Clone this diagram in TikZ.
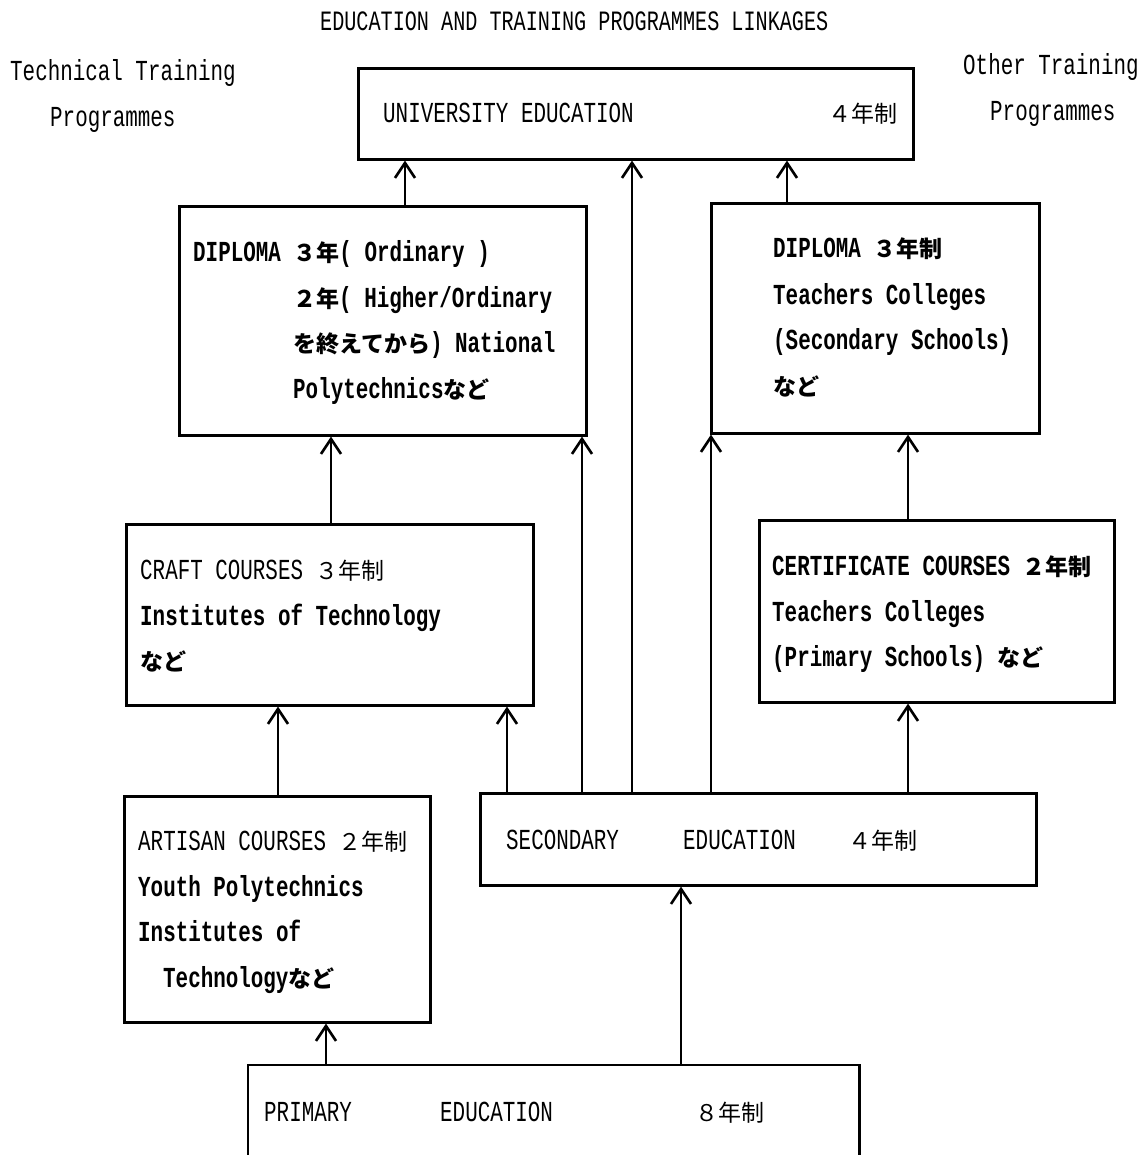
\documentclass[tikz,border=0pt]{standalone}
\usepackage{fontspec}
\setmonofont[FakeStretch=0.72]{Liberation Mono}
\newfontfamily\cjk{Noto Sans CJK JP}
\usetikzlibrary{arrows.meta}
\newcommand\J[1]{{\cjk\fontsize{23}{23}\selectfont #1}}
\newcommand\mytxt{\ttfamily\fontsize{29}{29}\selectfont}
\newcommand\mytitle{\ttfamily\fontsize{28}{28}\selectfont}
\tikzset{
  box/.style={draw, line width=2.6pt, inner sep=0pt, anchor=north west},
  txt/.style={anchor=base west, inner sep=0pt, font=\mytxt},
  btxt/.style={txt, font=\mytxt\bfseries},
  arr/.style={line width=2.6pt, -{Straight Barb[length=15pt,width=20pt]}}
}
\begin{document}
\begin{tikzpicture}[x=1pt,y=-1pt]
\path[fill=white,use as bounding box] (0,0) rectangle (1145,1155);

% boxes
\node[box, minimum width=555, minimum height=91] (uni) at (357,67) {};
\node[box, minimum width=407, minimum height=229] (dipL) at (178,205) {};
\node[box, minimum width=328, minimum height=230] (dipR) at (710,202) {};
\node[box, minimum width=407, minimum height=181] (craft) at (125,523) {};
\node[box, minimum width=355, minimum height=182] (cert) at (758,519) {};
\node[box, minimum width=306, minimum height=226] (art) at (123,795) {};
\node[box, minimum width=556, minimum height=92] (sec) at (479,792) {};
\node[box, draw=none, minimum width=609, minimum height=92] (prim) at (248,1065) {};
\draw[line width=2.6pt] (prim.south west) -- (prim.north west) -- (prim.north east) -- (prim.south east);

% x positions of connectors
\foreach \xx in {405,632,787,331,582,711,908,278,507,681,326}
  \coordinate (c\xx) at (\xx,0);

% connectors
\draw[arr] (dipL.north -| c405) -- (uni.south -| c405);
\draw[arr] (sec.north -| c632) -- (uni.south -| c632);
\draw[arr] (dipR.north -| c787) -- (uni.south -| c787);
\draw[arr] (craft.north -| c331) -- (dipL.south -| c331);
\draw[arr] (sec.north -| c582) -- (dipL.south -| c582);
\draw[arr] (sec.north -| c711) -- (dipR.south -| c711);
\draw[arr] (cert.north -| c908) -- (dipR.south -| c908);
\draw[arr] (art.north -| c278) -- (craft.south -| c278);
\draw[arr] (sec.north -| c507) -- (craft.south -| c507);
\draw[arr] (sec.north -| c908) -- (cert.south -| c908);
\draw[arr] (prim.north -| c681) -- (sec.south -| c681);
\draw[arr] (prim.north -| c326) -- (art.south -| c326);

% headings
\node[txt, font=\mytitle] (title) at (320,31) {EDUCATION AND TRAINING PROGRAMMES LINKAGES};
\node[txt] (tt1) at (10,81) {Technical Training};
\node[txt] (tt2) at (50,127) {Programmes};
\node[txt] (ot1) at (963,75) {Other Training};
\node[txt] (ot2) at (990,121) {Programmes};

% university
\node[txt] (uniA) at (383,123) {UNIVERSITY EDUCATION};
\node[txt] (uniB) at (828,123) {\J{４年制}};

% diploma left
\node[btxt] (dl1) at (193,262) {DIPLOMA \J{３年}( Ordinary )};
\node[btxt] (dl2) at (293,307) {\J{２年}( Higher/Ordinary};
\node[btxt] (dl3) at (293,352) {\J{を終えてから}) National};
\node[btxt] (dl4) at (293,398) {Polytechnics\J{など}};

% diploma right
\node[btxt] (dr1) at (773,258) {DIPLOMA \J{３年制}};
\node[btxt] (dr2) at (773,304) {Teachers Colleges};
\node[btxt] (dr3) at (773,349) {(Secondary Schools)};
\node[btxt] (dr4) at (773,395) {\J{など}};

% craft
\node[txt] (cr1) at (140,579) {CRAFT COURSES \J{３年制}};
\node[btxt] (cr2) at (140,625) {Institutes of Technology};
\node[btxt] (cr3) at (140,670) {\J{など}};

% certificate
\node[btxt] (ce1) at (772,575) {CERTIFICATE COURSES \J{２年制}};
\node[btxt] (ce2) at (772,621) {Teachers Colleges};
\node[btxt] (ce3) at (772,666) {(Primary Schools) \J{など}};

% artisan
\node[txt] (ar1) at (138,850) {ARTISAN COURSES \J{２年制}};
\node[btxt] (ar2) at (138,896) {Youth Polytechnics};
\node[btxt] (ar3) at (138,941) {Institutes of};
\node[btxt] (ar4) at (163,987) {Technology\J{など}};

% secondary
\node[txt] (se1) at (506,849) {SECONDARY};
\node[txt] (se2) at (683,849) {EDUCATION};
\node[txt] (se3) at (848,849) {\J{４年制}};

% primary
\node[txt] (pr1) at (264,1121) {PRIMARY};
\node[txt] (pr2) at (440,1121) {EDUCATION};
\node[txt] (pr3) at (695,1121) {\J{８年制}};
\end{tikzpicture}
\end{document}
